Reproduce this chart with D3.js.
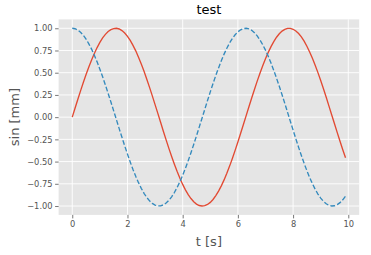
<!DOCTYPE html>
<html>
<head>
<meta charset="utf-8">
<script src="https://cdn.jsdelivr.net/npm/d3@7"></script>
<style>
  body { margin: 0; background: #fff; }
  svg { font-family: "DejaVu Sans", sans-serif; }
</style>
</head>
<body>
<svg id="chart"></svg>
<script>
const tValues = [0.0,0.1,0.2,0.3,0.4,0.5,0.6,0.7,0.8,0.9,1.0,1.1,1.2,1.3,1.4,1.5,1.6,1.7,1.8,1.9,
  2.0,2.1,2.2,2.3,2.4,2.5,2.6,2.7,2.8,2.9,3.0,3.1,3.2,3.3,3.4,3.5,3.6,3.7,3.8,3.9,
  4.0,4.1,4.2,4.3,4.4,4.5,4.6,4.7,4.8,4.9,5.0,5.1,5.2,5.3,5.4,5.5,5.6,5.7,5.8,5.9,
  6.0,6.1,6.2,6.3,6.4,6.5,6.6,6.7,6.8,6.9,7.0,7.1,7.2,7.3,7.4,7.5,7.6,7.7,7.8,7.9,
  8.0,8.1,8.2,8.3,8.4,8.5,8.6,8.7,8.8,8.9,9.0,9.1,9.2,9.3,9.4,9.5,9.6,9.7,9.8,9.9];
const sinValues = [0.000,0.100,0.199,0.296,0.389,0.479,0.565,0.644,0.717,0.783,0.841,0.891,0.932,0.964,0.985,0.997,1.000,0.992,0.974,0.946,
  0.909,0.863,0.808,0.746,0.675,0.598,0.516,0.427,0.335,0.239,0.141,0.042,-0.058,-0.158,-0.256,-0.351,-0.443,-0.530,-0.612,-0.688,
  -0.757,-0.818,-0.872,-0.916,-0.952,-0.978,-0.994,-1.000,-0.996,-0.982,-0.959,-0.926,-0.883,-0.832,-0.773,-0.706,-0.631,-0.551,-0.465,-0.374,
  -0.279,-0.182,-0.083,0.017,0.117,0.215,0.312,0.405,0.494,0.578,0.657,0.729,0.794,0.850,0.899,0.938,0.968,0.988,0.999,0.999,
  0.989,0.970,0.941,0.903,0.855,0.798,0.734,0.663,0.585,0.501,0.412,0.319,0.223,0.124,0.024,-0.075,-0.174,-0.271,-0.366,-0.457];
const cosValues = [1.000,0.995,0.980,0.955,0.921,0.878,0.825,0.765,0.697,0.622,0.540,0.454,0.362,0.267,0.170,0.071,-0.029,-0.129,-0.227,-0.323,
  -0.416,-0.505,-0.589,-0.666,-0.737,-0.801,-0.857,-0.904,-0.942,-0.971,-0.990,-0.999,-0.998,-0.987,-0.967,-0.936,-0.897,-0.848,-0.791,-0.726,
  -0.654,-0.575,-0.490,-0.401,-0.307,-0.211,-0.112,-0.012,0.087,0.187,0.284,0.378,0.469,0.554,0.635,0.709,0.776,0.835,0.886,0.927,
  0.960,0.983,0.997,1.000,0.993,0.977,0.950,0.914,0.869,0.815,0.754,0.685,0.608,0.526,0.439,0.347,0.252,0.154,0.054,-0.046,
  -0.146,-0.244,-0.340,-0.432,-0.520,-0.602,-0.679,-0.748,-0.811,-0.865,-0.911,-0.948,-0.975,-0.993,-1.000,-0.997,-0.984,-0.962,-0.930,-0.889];
const xTicks = [0, 2, 4, 6, 8, 10];
const yTicks = [-1.00, -0.75, -0.50, -0.25, 0.00, 0.25, 0.50, 0.75, 1.00];

const width = 371, height = 255;
const margin = {left: 58.6, right: 11.8, top: 19.4, bottom: 40.1};
const innerW = width - margin.left - margin.right;
const innerH = height - margin.top - margin.bottom;

const svg = d3.select('#chart').attr('width', width).attr('height', height);
const g = svg.append('g').attr('transform', `translate(${margin.left},${margin.top})`);

const xScale = d3.scaleLinear().domain([-0.495, 10.395]).range([0, innerW]);
const yScale = d3.scaleLinear().domain([-1.0999, 1.0999]).range([innerH, 0]);

g.append('rect')
  .attr('width', innerW).attr('height', innerH)
  .attr('fill', '#E5E5E5');

// grid
g.selectAll('.xgrid').data(xTicks).enter().append('line')
  .attr('x1', d => xScale(d)).attr('x2', d => xScale(d))
  .attr('y1', 0).attr('y2', innerH)
  .attr('stroke', '#fff').attr('stroke-width', 0.9);
g.selectAll('.ygrid').data(yTicks).enter().append('line')
  .attr('y1', d => yScale(d)).attr('y2', d => yScale(d))
  .attr('x1', 0).attr('x2', innerW)
  .attr('stroke', '#fff').attr('stroke-width', 0.9);

const xAxis = d3.axisBottom(xScale).tickValues(xTicks).tickFormat(d3.format('d'))
  .tickSizeInner(3.5).tickSizeOuter(0).tickPadding(2.5);
const yAxis = d3.axisLeft(yScale).tickValues(yTicks).tickFormat(d => d3.format('.2f')(d).replace('-', '\u2212'))
  .tickSizeInner(3.5).tickSizeOuter(0).tickPadding(2.5);

const xAxisG = g.append('g').attr('transform', `translate(0,${innerH})`).call(xAxis);
const yAxisG = g.append('g').call(yAxis);
[xAxisG, yAxisG].forEach(a => {
  a.select('.domain').remove();
  a.selectAll('line').attr('stroke', '#555555').attr('stroke-width', 0.8);
  a.selectAll('text').attr('fill', '#555555').style('font-size', '8.3px')
    .style('font-family', '"DejaVu Sans", sans-serif');
});

const line = d3.line()
  .x((d, i) => xScale(tValues[i]))
  .y(d => yScale(d));

g.append('path').datum(sinValues)
  .attr('d', line).attr('fill', 'none')
  .attr('stroke', '#E24A33').attr('stroke-width', 1.35);

g.append('path').datum(cosValues)
  .attr('d', line).attr('fill', 'none')
  .attr('stroke', '#348ABD').attr('stroke-width', 1.35)
  .attr('stroke-dasharray', '4.8,2.2');

svg.append('text')
  .attr('x', margin.left + innerW / 2).attr('y', 14.3)
  .attr('text-anchor', 'middle')
  .style('font-size', '13px').attr('fill', '#000')
  .text('test');

svg.append('text')
  .attr('x', margin.left + innerW / 2).attr('y', 246)
  .attr('text-anchor', 'middle')
  .style('font-size', '13px').attr('fill', '#555555')
  .text('t [s]');

svg.append('text')
  .attr('transform', `translate(18.5,${margin.top + innerH / 2}) rotate(-90)`)
  .attr('text-anchor', 'middle')
  .style('font-size', '13px').attr('fill', '#555555')
  .text('sin [mm]');
</script>
</body>
</html>
